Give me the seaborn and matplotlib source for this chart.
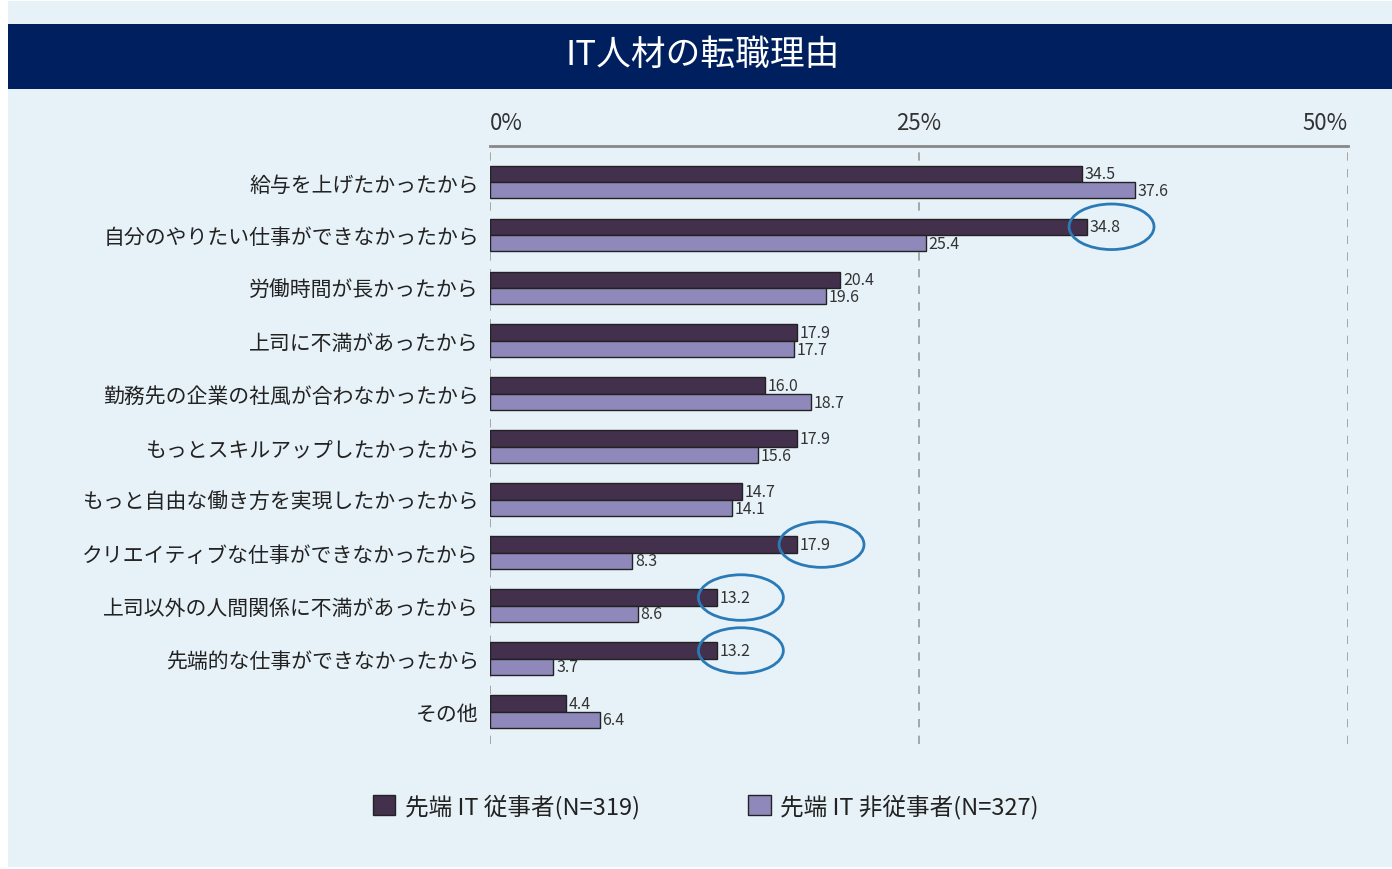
import matplotlib
matplotlib.use("Agg")
import matplotlib.pyplot as plt
from matplotlib.patches import Ellipse, Rectangle
import pandas as pd
import seaborn as sns

reasons = [
    "給与を上げたかったから",
    "自分のやりたい仕事ができなかったから",
    "労働時間が長かったから",
    "上司に不満があったから",
    "勤務先の企業の社風が合わなかったから",
    "もっとスキルアップしたかったから",
    "もっと自由な働き方を実現したかったから",
    "クリエイティブな仕事ができなかったから",
    "上司以外の人間関係に不満があったから",
    "先端的な仕事ができなかったから",
    "その他",
]
advanced = [34.5, 34.8, 20.4, 17.9, 16.0, 17.9, 14.7, 17.9, 13.2, 13.2, 4.4]
non_advanced = [37.6, 25.4, 19.6, 17.7, 18.7, 15.6, 14.1, 8.3, 8.6, 3.7, 6.4]
series = ["先端 IT 従事者(N=319)", "先端 IT 非従事者(N=327)"]
highlighted = [1, 7, 8, 9]  # circled labels of the first series
x_ticks = [0, 25, 50]
x_tick_labels = ["0%", "25%", "50%"]
title = "IT人材の転職理由"

sns.set_theme(style="white")
plt.rcParams["font.family"] = ["Noto Sans CJK JP", "DejaVu Sans"]

df = pd.DataFrame({
    "reason": reasons * 2,
    "value": advanced + non_advanced,
    "group": [series[0]] * len(reasons) + [series[1]] * len(reasons),
})

bg = "#E7F2F8"
fig = plt.figure(figsize=(13.92, 8.7), dpi=100, facecolor="white")
fig.patches.append(Rectangle((0.0057, 0.0023), 0.9943, 0.9954, transform=fig.transFigure,
                             facecolor=bg, edgecolor="none", zorder=-2))
fig.patches.append(Rectangle((0.0057, 1 - 90 / 870), 0.9943, 65 / 870, transform=fig.transFigure,
                             facecolor="#001F5E", edgecolor="none", zorder=-1))
fig.text(0.505, 1 - 55 / 870, title, color="white", fontsize=25, ha="center", va="center")

ax = fig.add_axes([490 / 1392, 1 - 745 / 870, 858 / 1392, 598 / 870])
ax.set_facecolor(bg)
sns.barplot(data=df, y="reason", x="value", hue="group", orient="h", ax=ax,
            palette=["#43304D", "#8F88BA"], edgecolor="#222222", linewidth=1,
            width=0.62, saturation=1)

for container in ax.containers:
    ax.bar_label(container, fmt="%.1f", padding=2, fontsize=11.5, color="#333333")

# blue circles around selected labels
for i in highlighted:
    ax.add_patch(Ellipse((advanced[i] + 1.42, i - 0.155), 4.95, 0.86, fill=False,
                         edgecolor="#2A7AB8", linewidth=2, zorder=5, clip_on=False))

ax.set_xlim(0, 50)
ax.set_ylim(10.61, -0.68)
ax.set_xticks(x_ticks)
ax.set_xticklabels(x_tick_labels)
ax.xaxis.tick_top()
ax.tick_params(axis="x", length=0, pad=9, labelsize=16, labelcolor="#333333")
for tick, ha in zip(ax.xaxis.get_major_ticks(), ["left", "center", "right"]):
    tick.label2.set_ha(ha)
ax.tick_params(axis="y", length=0, pad=8, labelsize=15, labelcolor="#222222")
ax.set_xlabel("")
ax.set_ylabel("")
for x in x_ticks:
    ax.axvline(x, color="#999999", linestyle=(0, (5, 5)), linewidth=1.2, zorder=0)
for side in ["left", "right", "bottom"]:
    ax.spines[side].set_visible(False)
ax.spines["top"].set_color("#888888")
ax.spines["top"].set_linewidth(2)

handles, labels = ax.get_legend_handles_labels()
ax.get_legend().remove()
fig.legend(handles, labels, loc="center", bbox_to_anchor=(0.507, 1 - 807 / 870), ncol=2,
           frameon=False, fontsize=17, handlelength=0.95, handleheight=0.95,
           columnspacing=4.6, handletextpad=0.4, labelcolor="#222222")

fig.savefig("out.png", dpi=100, facecolor="white")
